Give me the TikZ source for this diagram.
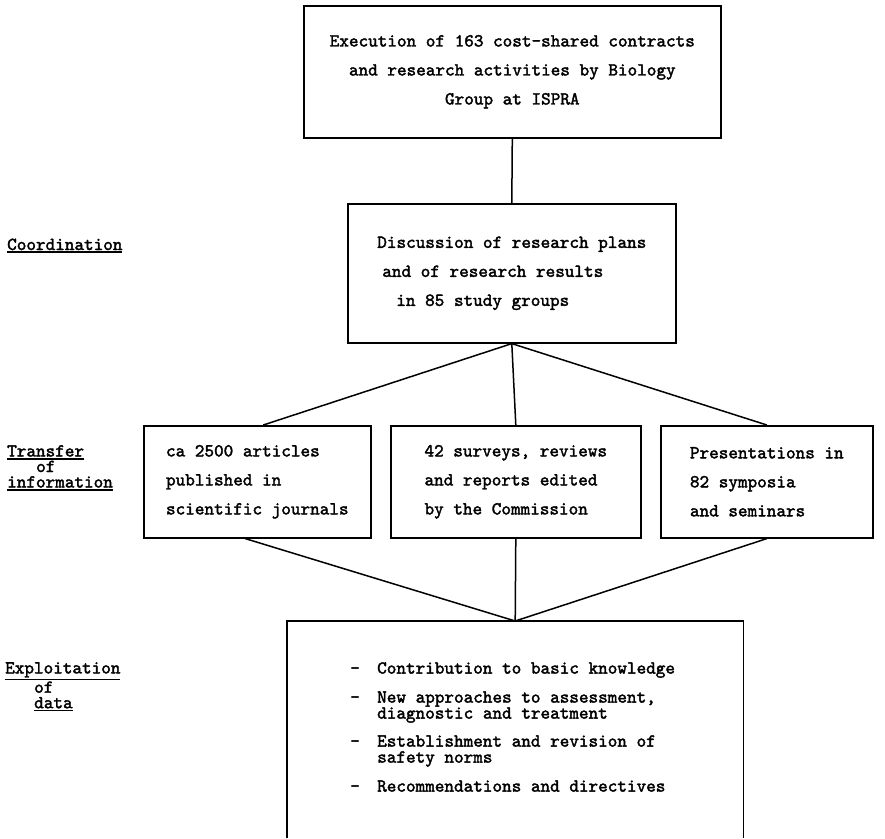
\documentclass[tikz,border=0pt]{standalone}
\usepackage{fontspec}
\newfontface\tw{lmmono10-regular.otf}[FakeBold=2]
\newcommand\ulx[1]{\leavevmode\vtop{\hbox{#1}\kern1.2pt\hrule height 1.8pt}}
\begin{document}
\begin{tikzpicture}[x=1pt,y=-1pt,
  font=\fontsize{18.3}{29}\tw,
  box/.style={draw, line width=1.6pt, inner sep=0pt, anchor=north west},
  conn/.style={line width=1.5pt},
  lbl/.style={anchor=north west, inner sep=0pt, align=left, font=\fontsize{18.3}{15.5}\tw}]
\useasboundingbox (0,0) rectangle (885,838);
% boxes
\node[box, minimum width=417, minimum height=132, align=center] (top) at (303,5)
  {Execution of 163 cost-shared contracts\\and research activities by Biology\\Group at ISPRA};
\node[box, minimum width=328, minimum height=139, align=left] (mid) at (347,203)
  {Discussion of research plans\\\hspace*{5pt}and of research results\\\hspace*{19pt}in 85 study groups};
\node[box, minimum width=227, minimum height=112, align=left] (left) at (143,425)
  {ca 2500 articles\\published in\\scientific journals};
\node[box, minimum width=250, minimum height=112, align=left] (ctr) at (390,425)
  {42 surveys, reviews\\and reports edited\\by the Commission};
\node[box, minimum width=212, minimum height=112, align=left] (right) at (660,425)
  {Presentations in\\82 symposia\\and seminars};
\node[anchor=north west, inner sep=0pt, minimum width=456, minimum height=217] (bot) at (287,621) {};
\draw[line width=1.6pt] (bot.south west) -- (bot.north west) -- (bot.north east) -- (bot.south east);
\node[anchor=north west, inner sep=0pt, align=left, font=\fontsize{18.3}{16}\tw] (bottxt) at (350,662)
  {\makebox[27pt][l]{–}Contribution to basic knowledge\\[13pt]
   \makebox[27pt][l]{–}New approaches to assessment,\\
   \hspace*{27pt}diagnostic and treatment\\[12pt]
   \makebox[27pt][l]{–}Establishment and revision of\\
   \hspace*{27pt}safety norms\\[13pt]
   \makebox[27pt][l]{–}Recommendations and directives};
% side labels
\node[lbl, anchor=base west] (lcoord) at (7,250) {\ulx{Coordination}};
\node[lbl] (ltrans) at (7,445) {\ulx{Transfer}\\\hspace*{29pt}of\\\ulx{information}};
\node[lbl] (lexpl) at (5,662) {\ulx{Exploitation}\\\hspace*{29pt}of\\\hspace*{29pt}\ulx{data}};
% connectors
\draw[conn] (top.south) -- (mid.north);
\draw[conn] (mid.south) -- ([xshift=6pt]left.north);
\draw[conn] (mid.south) -- (ctr.north);
\draw[conn] (mid.south) -- (right.north);
\draw[conn] ([xshift=-12pt]left.south) -- (bot.north);
\draw[conn] (ctr.south) -- (bot.north);
\draw[conn] (right.south) -- (bot.north);
\end{tikzpicture}
\end{document}
